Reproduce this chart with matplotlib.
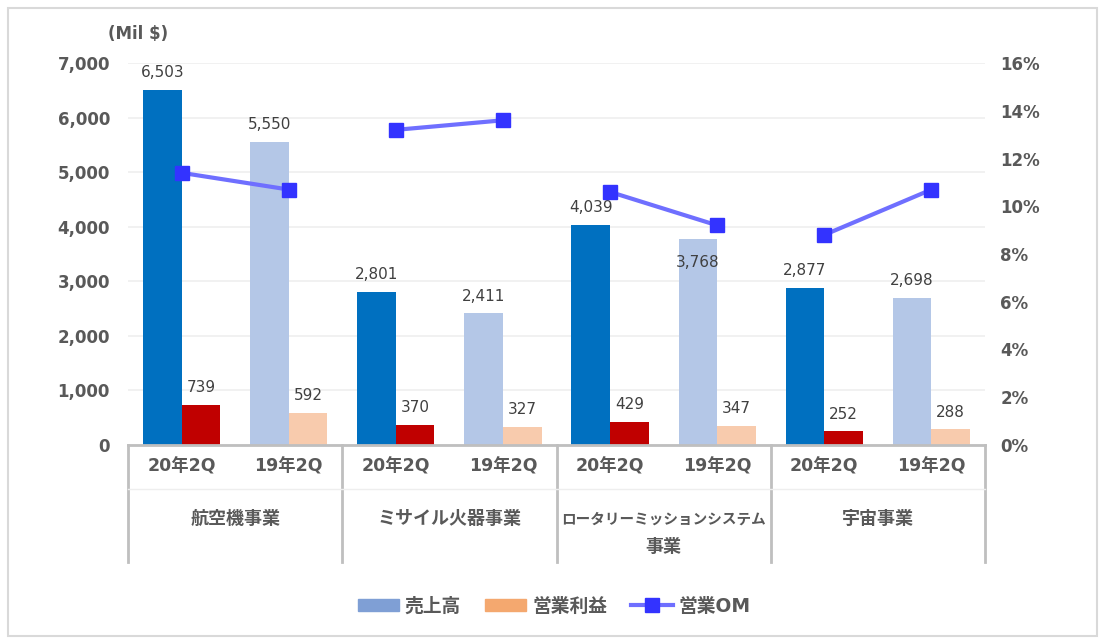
import matplotlib
matplotlib.use("Agg")
import matplotlib.pyplot as plt
import matplotlib.transforms as mtransforms
from matplotlib.patches import Patch, Rectangle
from matplotlib.lines import Line2D

plt.rcParams['font.family'] = ['DejaVu Sans', 'Noto Sans CJK JP']

# data
groups = ['航空機事業', 'ミサイル火器事業', 'ロータリーミッションシステム\n事業', '宇宙事業']
periods = ['20年2Q', '19年2Q']
sales = [6503, 5550, 2801, 2411, 4039, 3768, 2877, 2698]
op_profit = [739, 592, 370, 327, 429, 347, 252, 288]
om_pct = [11.4, 10.7, 13.2, 13.6, 10.6, 9.2, 8.8, 10.7]
left_ticks = [0, 1000, 2000, 3000, 4000, 5000, 6000, 7000]
right_ticks = [0, 2, 4, 6, 8, 10, 12, 14, 16]

W, H = 1104, 643
fig = plt.figure(figsize=(W / 100, H / 100), dpi=100)

def fy(py):
    return 1 - py / H

# outer border
fig.patches.append(Rectangle((8 / W, fy(636)), 1089 / W, 628 / H, transform=fig.transFigure,
                             fill=False, edgecolor='#D9D9D9', lw=1.5))

ax = fig.add_axes([128 / W, fy(445), (985 - 128) / W, (445 - 63) / H])
ax2 = ax.twinx()

gray = '#595959'
n = len(sales)
xs = list(range(n))
bw = 0.36
sales_col = ['#0070C0', '#B4C7E7'] * 4
op_col = ['#C00000', '#F8CBAD'] * 4

ax.bar([x - 0.18 for x in xs], sales, width=bw, color=sales_col, zorder=2)
ax.bar([x + 0.18 for x in xs], op_profit, width=bw, color=op_col, zorder=2)

for i in range(n):
    if sales[i] == 3768:
        # this label sits inside the bar, under the OM marker
        ax.annotate(f'{sales[i]:,}', (xs[i] - 0.18, sales[i]), xytext=(0, -11), textcoords='offset points',
                    ha='center', va='top', fontsize=11, color='#404040', zorder=5)
    else:
        ax.annotate(f'{sales[i]:,}', (xs[i] - 0.18, sales[i]), xytext=(0, 7), textcoords='offset points',
                    ha='center', va='bottom', fontsize=11, color='#404040')
    ax.annotate(f'{op_profit[i]:,}', (xs[i] + 0.18, op_profit[i]), xytext=(0, 7), textcoords='offset points',
                ha='center', va='bottom', fontsize=11, color='#404040')

ax.set_xlim(-0.5, n - 0.5)
ax.set_ylim(0, 7000)
ax.set_yticks(left_ticks)
ax.set_yticklabels([f'{t:,}' for t in left_ticks], fontsize=12, fontweight='bold', color=gray)
ax.tick_params(axis='y', length=0, pad=13)
ax.set_xticks([])
ax.grid(axis='y', color='#F0F0F0', lw=1.3, zorder=0)
ax.set_axisbelow(True)
for s in ['left', 'right', 'top']:
    ax.spines[s].set_visible(False)
    ax2.spines[s].set_visible(False)
ax.spines['bottom'].set_color('#BFBFBF')
ax.spines['bottom'].set_linewidth(2)
ax2.spines['bottom'].set_visible(False)

# OM line, one segment per group
for g in range(4):
    ax2.plot(xs[2 * g:2 * g + 2], om_pct[2 * g:2 * g + 2], color='#6F6FFF', lw=3,
             marker='s', markersize=9.5, markerfacecolor='#3333FF', markeredgecolor='#3333FF', zorder=4)
ax2.set_ylim(0, 16)
ax2.set_yticks(right_ticks)
ax2.set_yticklabels([f'{t}%' for t in right_ticks], fontsize=12, fontweight='bold', color=gray)
ax2.tick_params(axis='y', length=0, pad=11)
ax.set_zorder(1)
ax2.set_zorder(2)
ax2.patch.set_visible(False)

fig.text(138 / W, fy(34), '(Mil $)', ha='center', va='center', fontsize=12, fontweight='bold', color=gray)

# category axis
tr = mtransforms.blended_transform_factory(ax.transData, fig.transFigure)
for b in [-0.5, 1.5, 3.5, 5.5, 7.5]:
    ax.plot([b, b], [fy(445), fy(562)], color='#BFBFBF', lw=2, transform=tr, clip_on=False)
ax.plot([-0.5, n - 0.5], [fy(489), fy(489)], color='#EEEEEE', lw=1, transform=tr, clip_on=False)
for i in range(n):
    ax.text(xs[i], fy(467), periods[i % 2], transform=tr, ha='center', va='center',
            fontsize=12.5, fontweight='bold', color=gray)
for g, name in enumerate(groups):
    for j, line in enumerate(name.split('\n')):
        fs = 10.5 if len(line) > 10 else 13
        ax.text(2 * g + 0.5, fy(519 + 28 * j), line, transform=tr, ha='center', va='center',
                fontsize=fs, fontweight='bold', color=gray)

handles = [Patch(color='#7F9FD5'), Patch(color='#F4A86F'),
           Line2D([], [], color='#6F6FFF', lw=3, marker='s', markersize=9.5,
                  markerfacecolor='#3333FF', markeredgecolor='#3333FF')]
leg = fig.legend(handles, ['売上高', '営業利益', '営業OM'], loc='center', bbox_to_anchor=(554 / W, fy(606)),
                 ncol=3, frameon=False, handlelength=2.2, handleheight=0.6, handletextpad=0.3,
                 columnspacing=1.3, prop={'size': 13.5, 'weight': 'bold'})
for t in leg.get_texts():
    t.set_color(gray)

fig.savefig('out.png', dpi=100)
